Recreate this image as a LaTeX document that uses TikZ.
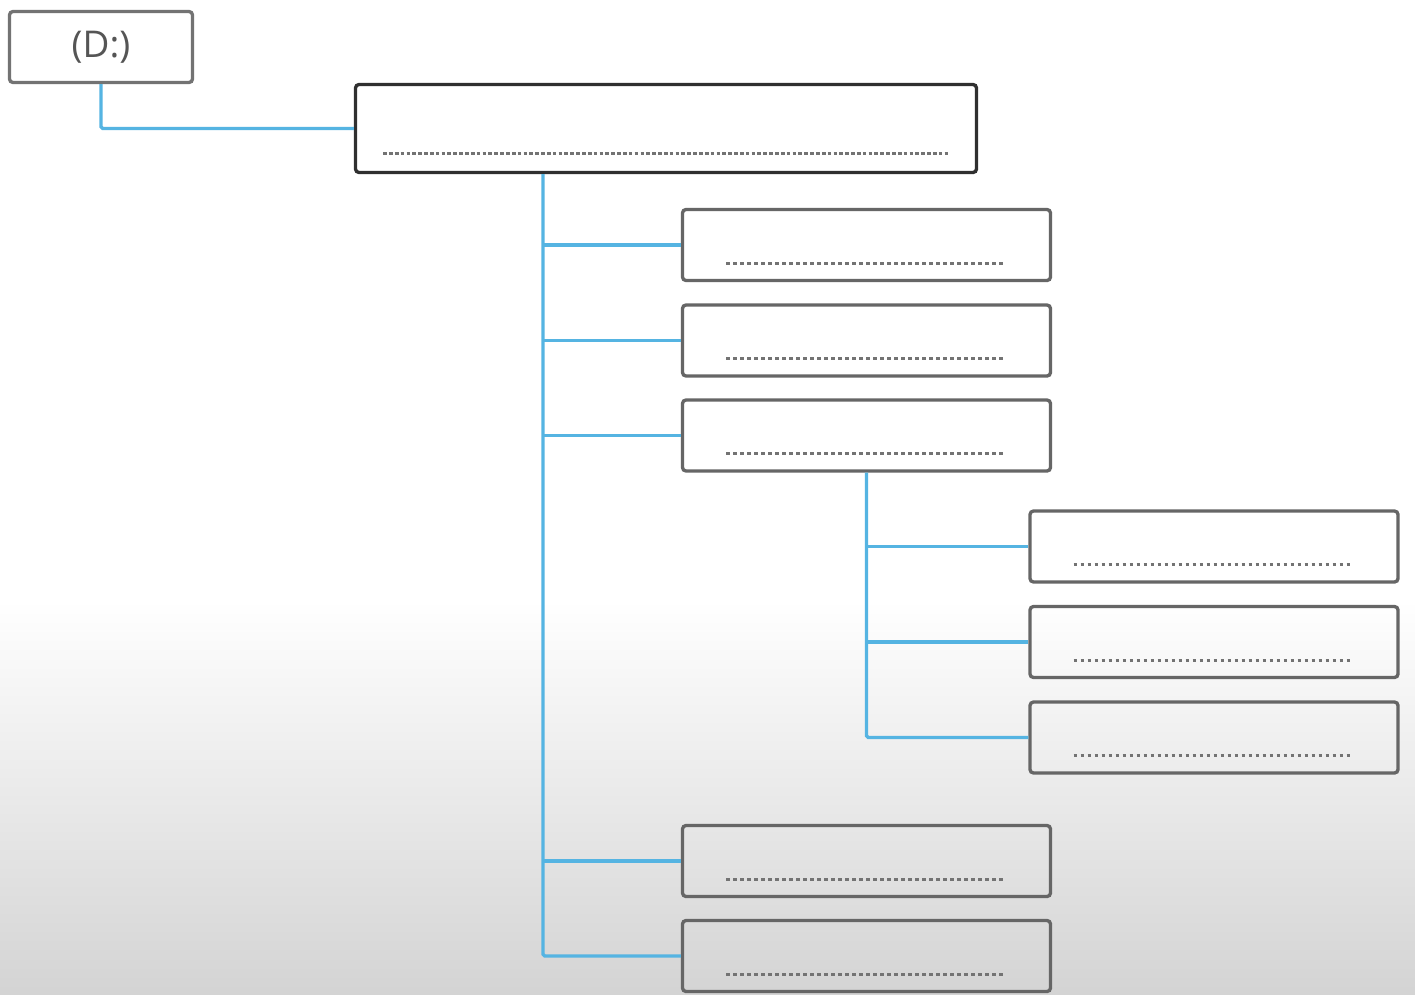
\documentclass[tikz,border=0pt]{standalone}
\usepackage{fontspec}
\newfontfamily\labelfont{Open Sans}
\definecolor{linkblue}{HTML}{55B4E2}
\definecolor{boxgray}{HTML}{666666}
\definecolor{rootgray}{HTML}{303030}
\definecolor{textgray}{HTML}{555555}
\newcommand{\dotrow}[2]{\textcolor{black!55}{\leaders\hbox to #2{\hss\rule{2.1pt}{1.8pt}\hss}\hskip #1}}
\begin{document}
\begin{tikzpicture}[x=0.02cm,y=-0.02cm,
    link/.style={draw=linkblue,line width=1.9pt,rounded corners=1pt},
    box/.style={draw=boxgray,line width=1.9pt,rounded corners=2pt,inner sep=0pt,minimum height=71*0.02cm},
    folder/.style={box,minimum width=368*0.02cm,
      label={[anchor=south,inner sep=0pt,yshift=0.34cm]south:{\dotrow{5.68cm}{0.14cm}}}}]
      \pgfmathsetmacro{\w}{1415}
      \pgfmathsetmacro{\h}{994}

      % background
      \useasboundingbox (0,0) rectangle (\w,\h);
      \fill[white] (0,0) rectangle (\w,600);
      \shade[top color=white,bottom color=black!17] (0,600) rectangle (\w,\h);

      \node[box,draw=black!55,minimum width=183*0.02cm,text=textgray,font=\labelfont\fontsize{21}{24}\selectfont] (drive) at (101,47) {(D:)};
      \node[box,draw=rootgray,minimum width=621*0.02cm,minimum height=88*0.02cm,
        label={[anchor=south,inner sep=0pt,yshift=0.38cm]south:{\dotrow{11.36cm}{0.117cm}}}] (root) at (666,128.5) {};

      \node[folder] (f1) at (866.5,245) {};
      \node[folder] (f2) at (866.5,340.5) {};
      \node[folder] (f3) at (866.5,435.5) {};
      \node[folder] (f4) at (866.5,861) {};
      \node[folder] (f5) at (866.5,956) {};

      \node[folder] (g1) at (1214,546.5) {};
      \node[folder] (g2) at (1214,642) {};
      \node[folder] (g3) at (1214,737.5) {};

      \coordinate (trunk) at (543,0);

      \draw[link] (drive.south) |- (root.west);
      \draw[link] (trunk |- root.south) |- (f5.west);
      \foreach \f in {f1,f2,f3,f4}
        \draw[link] (trunk |- \f.west) -- (\f.west);
      \draw[link] (f3.south) |- (g3.west);
      \foreach \g in {g1,g2}
        \draw[link] (f3.south |- \g.west) -- (\g.west);
    \end{tikzpicture}
\end{document}
